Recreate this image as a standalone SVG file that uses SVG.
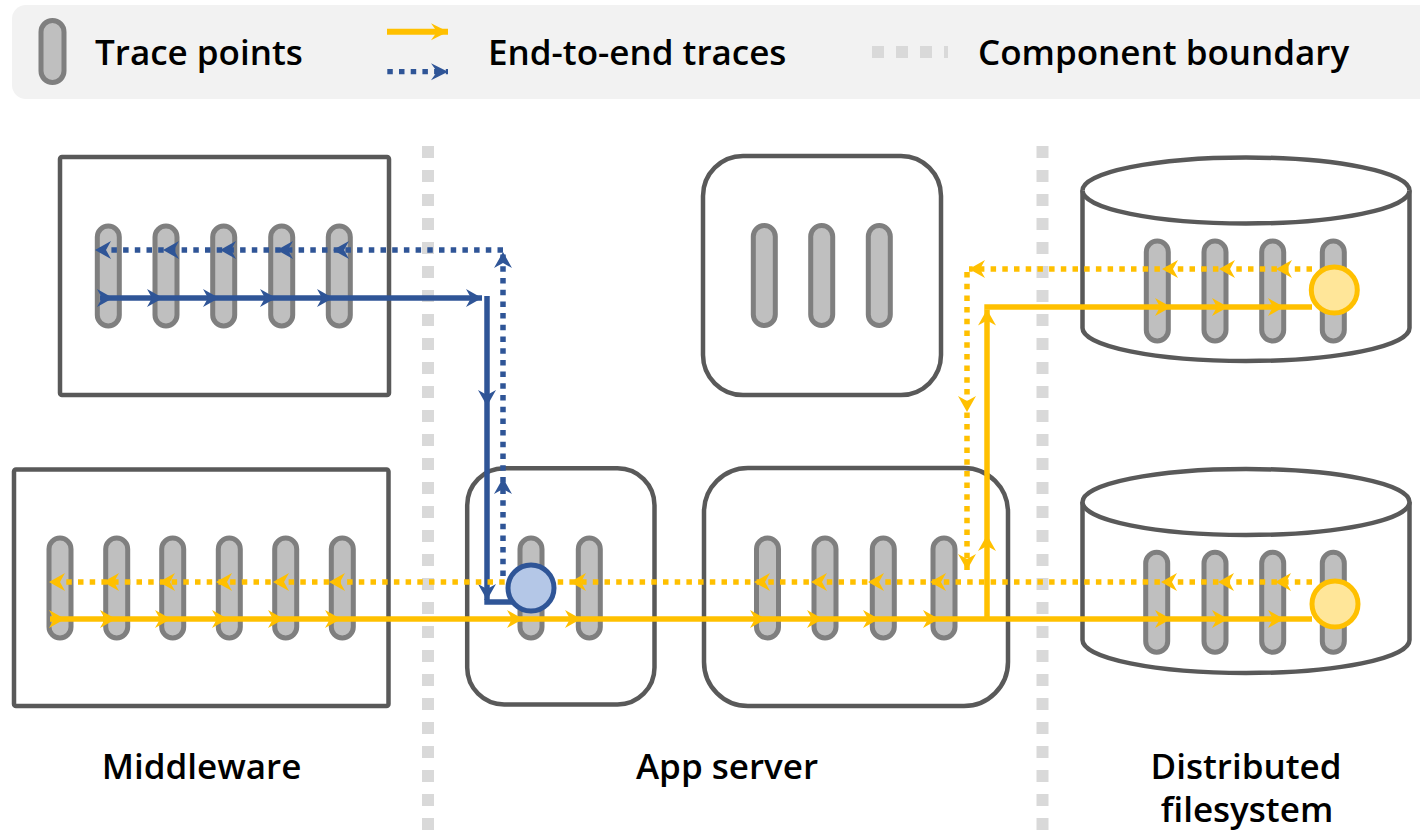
<svg xmlns="http://www.w3.org/2000/svg" width="1420" height="832" viewBox="0 0 1420 832">
  <style>
    .box { fill: #ffffff; stroke: #595959; stroke-width: 4.5; }
    .pill { fill: #bfbfbf; stroke: #7f7f7f; stroke-width: 5; }
    .bound { fill: none; stroke: #d9d9d9; stroke-width: 12; stroke-dasharray: 12 12; }
    .solid { fill: none; stroke-width: 5.5; }
    .dot { fill: none; stroke-width: 5.5; stroke-dasharray: 5.5 6.2; }
    .yl { stroke: #ffc000; }
    .bl { stroke: #2f5597; }
    .lbl { font-family: "Open Sans", "Noto Sans", "Liberation Sans", sans-serif; font-weight: 600; font-size: 35px; fill: #000000; }
    .mid { text-anchor: middle; }
    .origin-y { fill: #ffe699; stroke: #ffc000; stroke-width: 5; }
    .origin-b { fill: #b4c7e7; stroke: #2f5597; stroke-width: 5; }
  </style>
  <defs>
    <!-- stealth arrowheads, tip sits on the vertex -->
    <marker id="ay" viewBox="-17 -11 18 22" markerWidth="18" markerHeight="22" refX="0" refY="0" orient="auto" markerUnits="userSpaceOnUse">
      <path d="M0,0 L-16,-9 L-11,0 L-16,9 Z" fill="#ffc000"/>
    </marker>
    <marker id="ab" viewBox="-17 -11 18 22" markerWidth="18" markerHeight="22" refX="0" refY="0" orient="auto" markerUnits="userSpaceOnUse">
      <path d="M0,0 L-16,-9 L-11,0 L-16,9 Z" fill="#2f5597"/>
    </marker>
    <marker id="ayL" viewBox="-18 -10 19 20" markerWidth="19" markerHeight="20" refX="0" refY="0" orient="auto" markerUnits="userSpaceOnUse">
      <path d="M0,0 L-17,-8.5 L-11,0 L-17,8.5 Z" fill="#ffc000"/>
    </marker>
    <marker id="abL" viewBox="-18 -10 19 20" markerWidth="19" markerHeight="20" refX="0" refY="0" orient="auto" markerUnits="userSpaceOnUse">
      <path d="M0,0 L-17,-8.5 L-11,0 L-17,8.5 Z" fill="#2f5597"/>
    </marker>
  </defs>

  <rect width="1420" height="832" fill="#ffffff"/>

  <!-- legend -->
  <g id="legend">
    <rect x="12" y="5" width="1430" height="94" rx="14" fill="#f2f2f2"/>
    <rect class="pill" x="41" y="20.5" width="23" height="62" rx="11.5"/>
    <text class="lbl" x="95" y="65">Trace points</text>
    <path d="M387,31.7 H448" fill="none" stroke="#ffc000" stroke-width="6" marker-end="url(#ayL)"/>
    <path d="M387.3,71.7 H448" fill="none" stroke="#2f5597" stroke-width="5.3" stroke-dasharray="5.5 6.2" marker-end="url(#abL)"/>
    <text class="lbl" x="488" y="65">End-to-end traces</text>
    <path class="bound" d="M872,52 H948"/>
    <text class="lbl" x="978" y="65">Component boundary</text>
  </g>

  <!-- component boundaries -->
  <g id="boundaries">
    <path class="bound" d="M428,146 V832"/>
    <path class="bound" d="M1042.5,146 V832"/>
  </g>

  <!-- middleware nodes -->
  <g id="mw-top">
    <rect class="box" x="60" y="157" width="329" height="238" rx="2"/>
    <rect class="pill" x="97.3" y="226" width="22" height="100" rx="11"/>
    <rect class="pill" x="155" y="226" width="22" height="100" rx="11"/>
    <rect class="pill" x="212.7" y="226" width="22" height="100" rx="11"/>
    <rect class="pill" x="270.7" y="226" width="22" height="100" rx="11"/>
    <rect class="pill" x="328.3" y="226" width="22" height="100" rx="11"/>
  </g>
  <g id="mw-bottom">
    <rect class="box" x="14" y="469.5" width="374.5" height="236.5" rx="2"/>
    <rect class="pill" x="49" y="538" width="22" height="100" rx="11"/>
    <rect class="pill" x="105.7" y="538" width="22" height="100" rx="11"/>
    <rect class="pill" x="161.7" y="538" width="22" height="100" rx="11"/>
    <rect class="pill" x="218.3" y="538" width="22" height="100" rx="11"/>
    <rect class="pill" x="274.7" y="538" width="22" height="100" rx="11"/>
    <rect class="pill" x="331.3" y="538" width="22" height="100" rx="11"/>
  </g>

  <!-- app server nodes -->
  <g id="app-top">
    <rect class="box" x="703" y="156" width="238" height="239" rx="40"/>
    <rect class="pill" x="753.3" y="225.5" width="22" height="100" rx="11"/>
    <rect class="pill" x="810.7" y="225.5" width="22" height="100" rx="11"/>
    <rect class="pill" x="868.3" y="225.5" width="22" height="100" rx="11"/>
  </g>
  <g id="app-small">
    <rect class="box" x="467.2" y="468.2" width="187.3" height="236.3" rx="37"/>
    <rect class="pill" x="520" y="538" width="22" height="100" rx="11"/>
    <rect class="pill" x="578.3" y="538" width="22" height="100" rx="11"/>
  </g>
  <g id="app-big">
    <rect class="box" x="704" y="468" width="304" height="238" rx="44"/>
    <rect class="pill" x="756.5" y="538" width="22" height="100" rx="11"/>
    <rect class="pill" x="814" y="538" width="22" height="100" rx="11"/>
    <rect class="pill" x="872.3" y="538" width="22" height="100" rx="11"/>
    <rect class="pill" x="933" y="538" width="22" height="100" rx="11"/>
  </g>

  <!-- distributed filesystem nodes -->
  <g id="dfs-top">
    <path class="box" d="M1082.5,190.5 A163.5,33 0 0 1 1409.5,190.5 V328 A163.5,33 0 0 1 1082.5,328 Z"/>
    <path class="box" d="M1082.5,190.5 A163.5,33 0 0 0 1409.5,190.5" fill="none"/>
    <rect class="pill" x="1146.3" y="241" width="22" height="100" rx="11"/>
    <rect class="pill" x="1204" y="241" width="22" height="100" rx="11"/>
    <rect class="pill" x="1261.7" y="241" width="22" height="100" rx="11"/>
    <rect class="pill" x="1322.3" y="241" width="22" height="100" rx="11"/>
  </g>
  <g id="dfs-bottom">
    <path class="box" d="M1082.5,502 A163.5,33 0 0 1 1409.5,502 V640 A163.5,33 0 0 1 1082.5,640 Z"/>
    <path class="box" d="M1082.5,502 A163.5,33 0 0 0 1409.5,502" fill="none"/>
    <rect class="pill" x="1145.7" y="552.3" width="22" height="100" rx="11"/>
    <rect class="pill" x="1204" y="552.3" width="22" height="100" rx="11"/>
    <rect class="pill" x="1261.7" y="552.3" width="22" height="100" rx="11"/>
    <rect class="pill" x="1322.3" y="552.3" width="22" height="100" rx="11"/>
  </g>

  <!-- trace connectors -->
  <g id="connectors">
    <!-- blue request path -->
    <path class="solid bl" d="M100,298 H113 H163 H219 H276 H333 H482" marker-mid="url(#ab)" marker-end="url(#ab)"/>
    <path class="solid bl" d="M487,296 V406 V600" marker-mid="url(#ab)" marker-end="url(#ab)"/>
    <path class="solid bl" d="M484.3,602 H512"/>
    <path class="dot bl" d="M503,576 V478 V252" marker-mid="url(#ab)" marker-end="url(#ab)"/>
    <path class="dot bl" d="M503,250 H333 H277 H220 H163 H95" marker-mid="url(#ab)" marker-end="url(#ab)"/>

    <!-- yellow request path -->
    <path class="solid yl" d="M50,619 H65 H116 H171 H228 H284 H341 H523 H581 H766 H823 H879 H939 H1171 H1228 H1284 H1312" marker-mid="url(#ay)"/>
    <path class="solid yl" d="M987,619 V535 V309.5" marker-mid="url(#ay)" marker-end="url(#ay)"/>
    <path class="solid yl" d="M984.3,307 H1171 H1228 H1284 H1312" marker-mid="url(#ay)"/>
    <path class="dot yl" d="M1312,269 H1276 H1219 H1162 H969" marker-mid="url(#ay)" marker-end="url(#ay)"/>
    <path class="dot yl" d="M967,272 V412 V570" marker-mid="url(#ay)" marker-end="url(#ay)"/>
    <path class="dot yl" d="M1312,582 H1275 H1218 H1161 H930 H868 H811 H754 H570 H329 H273 H216 H159 H103 H49" marker-mid="url(#ay)" marker-end="url(#ay)"/>
  </g>

  <!-- trace origins -->
  <g id="origins">
    <circle class="origin-b" cx="531" cy="588" r="23"/>
    <circle class="origin-y" cx="1334.3" cy="290" r="23"/>
    <circle class="origin-y" cx="1335" cy="604" r="23"/>
  </g>

  <!-- tier labels -->
  <g id="labels">
    <text class="lbl mid" x="201.5" y="779">Middleware</text>
    <text class="lbl mid" x="727" y="779">App server</text>
    <text class="lbl mid" x="1246" y="779">Distributed</text>
    <text class="lbl mid" x="1247" y="822">filesystem</text>
  </g>
</svg>
